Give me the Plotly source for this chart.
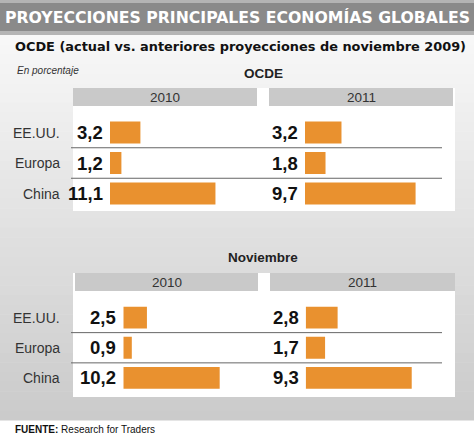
import plotly.graph_objects as go

# ---------------- data ----------------
categories = ["EE.UU.", "Europa", "China"]
years = ["2010", "2011"]
ocde_2010 = [3.2, 1.2, 11.1]
ocde_2011 = [3.2, 1.8, 9.7]
nov_2010 = [2.5, 0.9, 10.2]
nov_2011 = [2.8, 1.7, 9.3]
section_titles = ["OCDE", "Noviembre"]

title = "PROYECCIONES PRINCIPALES ECONOMÍAS GLOBALES"
subtitle = "OCDE (actual vs. anteriores proyecciones de noviembre 2009)"
unit_note = "En porcentaje"
source = "<b>FUENTE:</b> Research for Traders"

# ---------------- layout helpers ----------------
W, H = 474, 436
ORANGE = "#e9912f"
HEADER = "#c9c9c9"
FONT = "Liberation Sans"


def px(x):
    return x / W


def py(y):
    return 1 - y / H


def fmt(v):
    return f"{v:.1f}".replace(".", ",")


fig = go.Figure()
shapes = []
annotations = []

# background gradient (bands)
n = 40
y_top, y_bot = 35, 420
c0, c1 = 248, 202
for i in range(n):
    ya = y_top + (y_bot - y_top) * i / n
    yb = y_top + (y_bot - y_top) * (i + 1) / n + 0.6
    c = int(round(c0 + (c1 - c0) * (i + 0.5) / n))
    shapes.append(dict(type="rect", xref="paper", yref="paper", x0=0, x1=1,
                       y0=py(yb), y1=py(ya), fillcolor=f"rgb({c},{c},{c})",
                       line=dict(width=0), layer="below"))

# title bar
shapes.append(dict(type="rect", xref="paper", yref="paper", x0=0, x1=1,
                   y0=py(35), y1=py(0), fillcolor="#b4b4b4", line=dict(width=0), layer="below"))
shapes.append(dict(type="rect", xref="paper", yref="paper", x0=0, x1=1,
                   y0=py(31), y1=py(3), fillcolor="#8a8a8a", line=dict(width=0), layer="below"))

sections = [
    dict(v=(ocde_2010, ocde_2011), name=section_titles[0], ty=74,
         hy0=88, hy1=106, py1=211, ry0=117.25, ry1=208.75,
         axes=[(110, 257, 9.5), (305, 453, 11.4)],
         hx=[(73, 257), (269, 453)]),
    dict(v=(nov_2010, nov_2011), name=section_titles[1], ty=257,
         hy0=273, hy1=291, py1=397, ry0=302.4, ry1=393.1,
         axes=[(123.3, 258, 9.45), (305.7, 455, 11.4)],
         hx=[(75, 258), (270, 455)]),
]

layout_axes = {}
k = 0
for s in sections:
    shapes.append(dict(type="rect", xref="paper", yref="paper", x0=px(73), x1=px(455),
                       y0=py(s["py1"]), y1=py(s["hy0"]), fillcolor="white",
                       line=dict(width=0), layer="below"))
    annotations.append(dict(text=f"<b>{s['name']}</b>", xref="paper", yref="paper",
                            x=px(263), y=py(s["ty"]), xanchor="center", yanchor="middle",
                            showarrow=False, font=dict(family=FONT, size=13.5, color="#222")))
    for j, (hx0, hx1) in enumerate(s["hx"]):
        shapes.append(dict(type="rect", xref="paper", yref="paper", x0=px(hx0), x1=px(hx1),
                           y0=py(s["hy1"]), y1=py(s["hy0"]), fillcolor=HEADER,
                           line=dict(width=0), layer="below"))
        annotations.append(dict(text=years[j], xref="paper", yref="paper",
                                x=px((hx0 + hx1) / 2), y=py((s["hy0"] + s["hy1"]) / 2 + 0.5),
                                xanchor="center", yanchor="middle", showarrow=False,
                                font=dict(family=FONT, size=13.5, color="#333")))
    for j, (ax0, ax1, scale) in enumerate(s["axes"]):
        k += 1
        xa = "x" if k == 1 else f"x{k}"
        ya = "y" if k == 1 else f"y{k}"
        vals = s["v"][j]
        fig.add_trace(go.Bar(x=vals, y=categories, orientation="h",
                             marker=dict(color=ORANGE, line=dict(width=0)),
                             width=0.72, xaxis=xa, yaxis=ya, showlegend=False,
                             hoverinfo="x+y"))
        layout_axes["xaxis" if k == 1 else f"xaxis{k}"] = dict(
            domain=[px(ax0), px(ax1)], range=[0, (ax1 - ax0) / scale],
            visible=False, anchor=ya, fixedrange=True)
        layout_axes["yaxis" if k == 1 else f"yaxis{k}"] = dict(
            domain=[py(s["ry1"]), py(s["ry0"])], type="category",
            categoryorder="array", categoryarray=categories,
            range=[2.5, -0.5], visible=False, anchor=xa, fixedrange=True)
        for c, v in zip(categories, vals):
            annotations.append(dict(text=f"<b>{fmt(v)}</b>", xref=xa, yref=ya, x=0, y=c,
                                    xanchor="right", yanchor="middle", xshift=-5,
                                    showarrow=False,
                                    font=dict(family=FONT, size=18.5, color="#111")))
        if j == 0:
            for c in categories:
                annotations.append(dict(text=c, xref="paper", yref=ya, x=px(62), y=c,
                                        xanchor="right", yanchor="middle", showarrow=False,
                                        font=dict(family=FONT, size=14, color="#333")))
            for yb in (0.5, 1.5):
                shapes.append(dict(type="line", xref="paper", yref=ya,
                                   x0=px(71), x1=px(442), y0=yb, y1=yb,
                                   line=dict(color="#666", width=1)))

annotations += [
    dict(text=f"<b>{title}</b>", xref="paper", yref="paper", x=px(237), y=py(18),
         xanchor="center", yanchor="middle", showarrow=False,
         font=dict(family="DejaVu Sans", size=15.7, color="white")),
    dict(text=f"<b>{subtitle}</b>", xref="paper", yref="paper", x=px(13), y=py(46),
         xanchor="left", yanchor="middle", showarrow=False,
         font=dict(family="DejaVu Sans", size=12.9, color="#111")),
    dict(text=f"<i>{unit_note}</i>", xref="paper", yref="paper", x=px(15), y=py(70),
         xanchor="left", yanchor="middle", showarrow=False,
         font=dict(family=FONT, size=10, color="#333")),
    dict(text=source, xref="paper", yref="paper", x=px(13), y=py(429),
         xanchor="left", yanchor="middle", showarrow=False,
         font=dict(family=FONT, size=10, color="#111")),
]

fig.update_layout(width=W, height=H, margin=dict(l=0, r=0, t=0, b=0),
                  paper_bgcolor="white", plot_bgcolor="rgba(0,0,0,0)",
                  shapes=shapes, annotations=annotations, bargap=0.28,
                  **layout_axes)

fig.write_html("out.html", config=dict(displayModeBar=False),
               post_script="document.body.style.margin='0';document.body.style.overflow='hidden';")
